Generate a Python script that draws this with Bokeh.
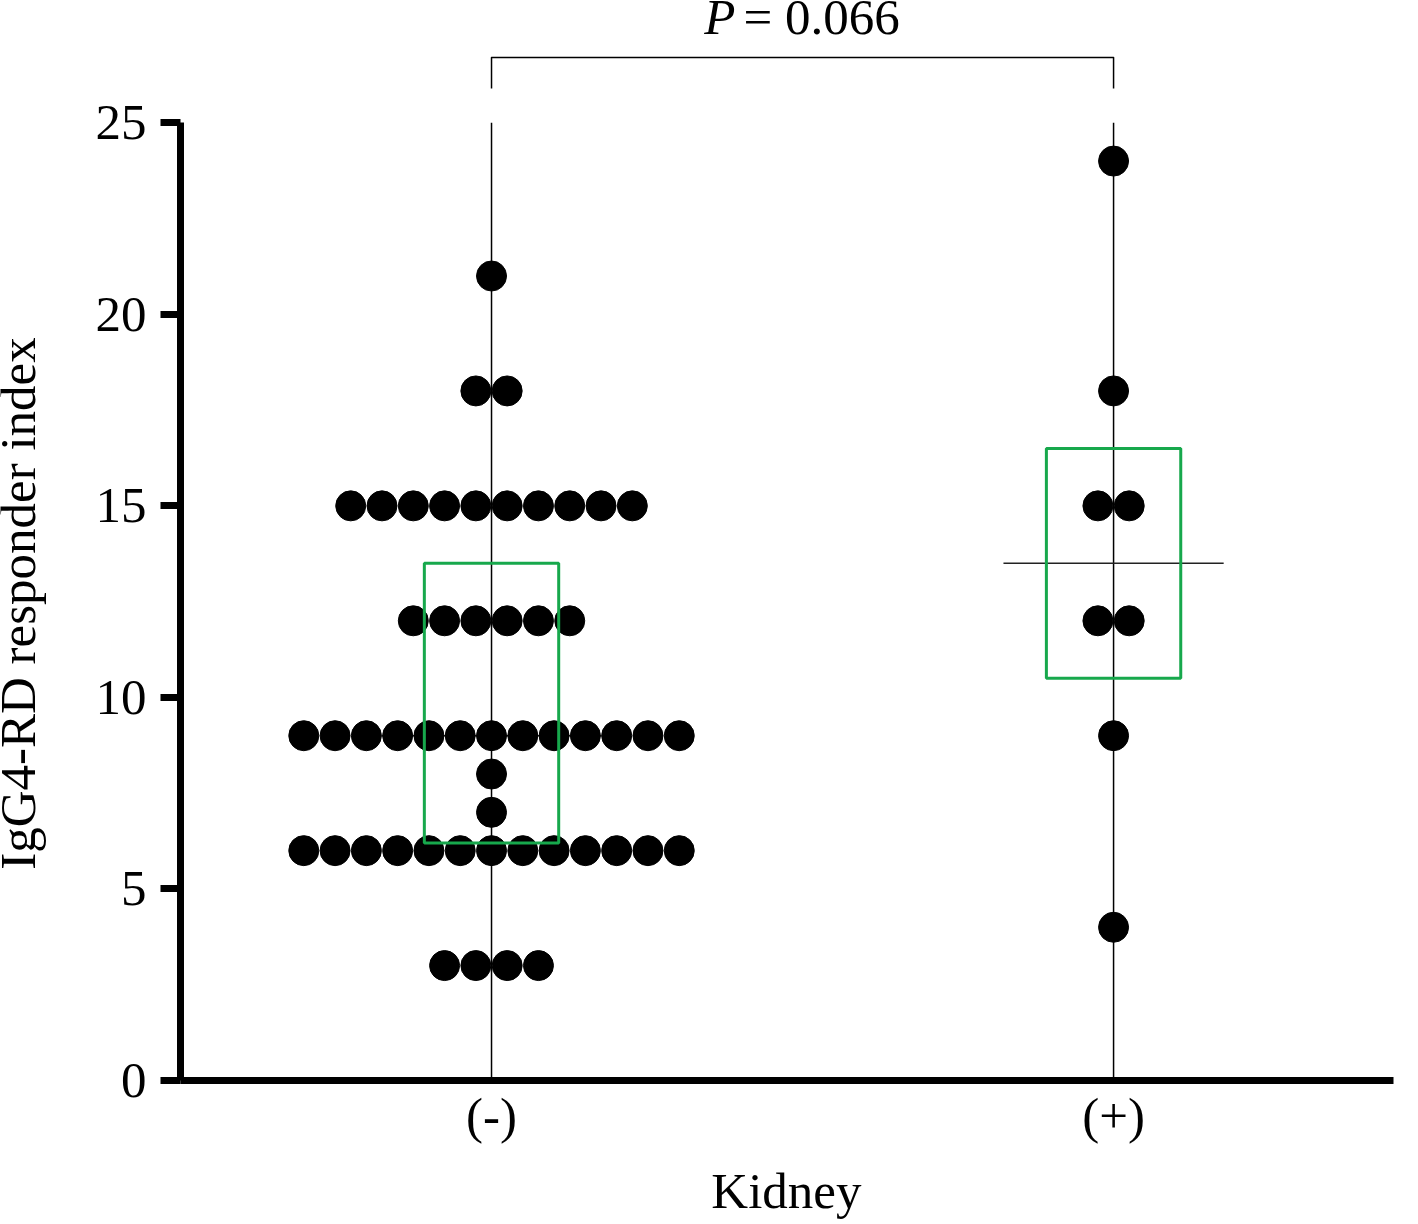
import numpy as np
from collections import Counter
from bokeh.plotting import figure
from bokeh.layouts import column, row
from bokeh.models import Range1d, FixedTicker, Label, ColumnDataSource
from bokeh.embed import file_html
from bokeh.resources import INLINE

# ---------------- data ----------------
categories = ["(-)", "(+)"]
cat_pos = [1, 2]
kidney_neg = [21,
              18, 18,
              15, 15, 15, 15, 15, 15, 15, 15, 15, 15,
              12, 12, 12, 12, 12, 12,
              9, 9, 9, 9, 9, 9, 9, 9, 9, 9, 9, 9, 9,
              8,
              7,
              6, 6, 6, 6, 6, 6, 6, 6, 6, 6, 6, 6, 6,
              3, 3, 3, 3]
kidney_pos = [24, 18, 15, 15, 12, 12, 9, 4]
medians = [9, 13.5]
q1 = [6.2, 10.5]
q3 = [13.5, 16.5]
y_ticks = [0, 5, 10, 15, 20, 25]
y_top = 25
p_value = "0.066"
x_label = "Kidney"
y_label = "IgG4-RD responder index"

# ---------------- layout constants ----------------
FONT = "Liberation Serif"
FS = "51px"
GREEN = "#17a84c"
dot_step = 0.0503
box_half = 0.108
med_half = 0.177

W = 1416
TOP_H = 92          # strip above the plot (bracket + P value)
MAIN_H = 1058       # plot incl. tick labels
BOT_H = 72          # strip with the x-axis title
LAB_W = 60          # strip with the y-axis title


def swarm(values, center, step):
    xs, ys = [], []
    counts = Counter(values)
    for v in sorted(counts, reverse=True):
        n = counts[v]
        for i in range(n):
            xs.append(center + (i - (n - 1) / 2) * step)
            ys.append(v)
    return xs, ys


def blank(fig):
    fig.outline_line_color = None
    fig.background_fill_color = "white"
    fig.border_fill_color = "white"
    fig.xgrid.visible = False
    fig.ygrid.visible = False
    return fig


x0, y0 = swarm(kidney_neg, cat_pos[0], dot_step)
x1, y1 = swarm(kidney_pos, cat_pos[1], dot_step)
dots = ColumnDataSource(dict(x=x0 + x1, y=y0 + y1))

xr = Range1d(0.5, 2.487)
yr = Range1d(0, 25.79)

# ---------------- main plot ----------------
p = figure(width=W - LAB_W, height=MAIN_H,
           x_range=xr, y_range=yr,
           output_backend="svg", toolbar_location=None,
           min_border_left=180 - LAB_W, min_border_right=0, min_border_top=0, min_border_bottom=70)
blank(p)

p.yaxis.bounds = (-0.783, y_top)
p.xaxis.bounds = (0.4678, 2.45)
p.yaxis.ticker = FixedTicker(ticks=y_ticks)
p.xaxis.ticker = FixedTicker(ticks=cat_pos)
p.xaxis.major_label_overrides = {cat_pos[0]: categories[0], cat_pos[1]: categories[1]}
for ax in (p.xaxis, p.yaxis):
    ax.axis_line_width = 7
    ax.axis_line_color = "black"
    ax.major_tick_line_width = 7
    ax.major_tick_line_color = "black"
    ax.minor_tick_line_color = None
    ax.major_label_text_font = FONT
    ax.major_label_text_font_size = FS
    ax.major_label_text_color = "black"
p.yaxis.major_tick_out = 20
p.yaxis.major_tick_in = 0
p.yaxis.major_label_standoff = 14
p.xaxis.major_tick_out = 0
p.xaxis.major_tick_in = 0
p.xaxis.major_label_standoff = 7

# vertical category lines
p.segment(x0=cat_pos, y0=[0, 0], x1=cat_pos, y1=[y_top, y_top], line_color="black", line_width=1.5)
# median lines
p.segment(x0=[c - med_half for c in cat_pos], y0=medians,
          x1=[c + med_half for c in cat_pos], y1=medians, line_color="#222222", line_width=1.5)
# dots
p.scatter("x", "y", source=dots, size=30, color="black", line_color="black")
# boxes
p.quad(left=[c - box_half for c in cat_pos], right=[c + box_half for c in cat_pos],
       bottom=q1, top=q3, fill_color=None, line_color=GREEN, line_width=3)

# ---------------- strip above: bracket and P value ----------------
top = blank(figure(width=W, height=TOP_H, x_range=xr, y_range=Range1d(0, TOP_H),
                   output_backend="svg", toolbar_location=None,
                   x_axis_location=None, y_axis_location=None,
                   min_border_left=180, min_border_right=0, min_border_top=0, min_border_bottom=0))
br_y, br_low = 35, 4
top.line(x=[cat_pos[0], cat_pos[0], cat_pos[1], cat_pos[1]], y=[br_low, br_y, br_y, br_low],
         line_color="black", line_width=1.5, line_join="round")
txt_y = 48
top.add_layout(Label(x=1.392, y=txt_y, text="P", text_align="right", text_baseline="bottom",
                     text_font=FONT, text_font_size=FS, text_font_style="italic", text_color="black"))
top.add_layout(Label(x=1.405, y=txt_y, text="= " + p_value, text_align="left", text_baseline="bottom",
                     text_font=FONT, text_font_size=FS, text_color="black"))

# ---------------- strip left: y-axis title (shares the y scale of the plot) ----------------
lab = blank(figure(width=LAB_W, height=MAIN_H, x_range=Range1d(0, LAB_W), y_range=yr,
                   output_backend="svg", toolbar_location=None,
                   x_axis_location=None, y_axis_location=None,
                   min_border_left=0, min_border_right=0, min_border_top=0, min_border_bottom=70))
lab.add_layout(Label(x=17, y=12.45, text=y_label, angle=np.pi / 2,
                     text_align="center", text_baseline="middle",
                     text_font=FONT, text_font_size=FS, text_color="black"))

# ---------------- strip below: x-axis title (shares the x scale of the plot) ----------------
bot = blank(figure(width=W, height=BOT_H, x_range=xr, y_range=Range1d(0, BOT_H),
                   output_backend="svg", toolbar_location=None,
                   x_axis_location=None, y_axis_location=None,
                   min_border_left=180, min_border_right=0, min_border_top=0, min_border_bottom=0))
bot.add_layout(Label(x=1.474, y=TOP_H + MAIN_H + BOT_H - 1190, text=x_label,
                     text_align="center", text_baseline="middle",
                     text_font=FONT, text_font_size=FS, text_color="black"))

layout = column(top, row(lab, p), bot)
open("out.html", "w").write(file_html(layout, INLINE))
